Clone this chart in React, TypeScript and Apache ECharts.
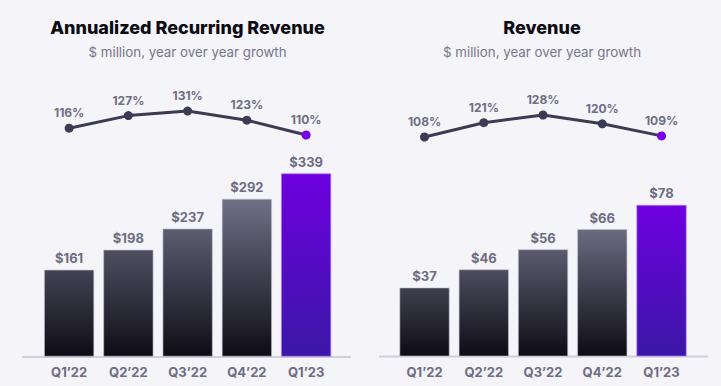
import React, { useEffect, useRef } from "react";
import * as echarts from "echarts";

const categories = ["Q1\u201922", "Q2\u201922", "Q3\u201922", "Q4\u201922", "Q1\u201923"];
const arrValues = [161, 198, 237, 292, 339];
const arrGrowth = [116, 127, 131, 123, 110];
const revValues = [37, 46, 56, 66, 78];
const revGrowth = [108, 121, 128, 120, 109];

const BG = "#f4f4f9";
const LINE = "#3c3b53";
const PURPLE = "#7a00e8";
const LABEL = "#6e6d82";
const FONT = "Inter, 'Open Sans', sans-serif";

function darkGrad(y0: number, y1: number) {
  return new echarts.graphic.LinearGradient(0, y0, 0, y1, [
    { offset: 0, color: "#76758c" },
    { offset: 1, color: "#0d0c15" },
  ], true);
}
function purpleGrad() {
  return new echarts.graphic.LinearGradient(0, 0, 0, 1, [
    { offset: 0, color: "#6e00e0" },
    { offset: 1, color: "#3a17a6" },
  ]);
}

export default function App() {
  const ref = useRef<HTMLDivElement>(null);
  useEffect(() => {
    document.body.style.margin = "0";
    document.body.style.background = BG;
    const chart = echarts.init(ref.current!, null, { renderer: "svg" });

    const barData = (vals: number[], y0: number, y1: number) =>
      vals.map((v, i) => ({
        value: v,
        itemStyle: {
          color: i === vals.length - 1 ? purpleGrad() : darkGrad(y0, y1),
          borderColor: i === vals.length - 1 ? "rgba(170,120,255,0.7)" : "rgba(190,190,210,0.6)",
          borderWidth: 1,
        },
      }));

    const lineData = (vals: number[]) =>
      vals.map((v, i) => ({
        value: v,
        itemStyle: { color: i === vals.length - 1 ? PURPLE : LINE },
      }));

    const hiddenY = (min: number, max: number, gridIndex: number) => ({
      type: "value", gridIndex, min, max,
      show: false, splitLine: { show: false },
    });
    const xAx = (gridIndex: number, showLabels: boolean) => ({
      type: "category", gridIndex, data: categories,
      axisLine: { show: false }, axisTick: { show: false },
      axisLabel: {
        show: showLabels, color: LABEL, fontWeight: "bold", fontSize: 13,
        fontFamily: FONT, margin: 9,
      },
    });

    const barLabel = {
      show: true, position: "top", distance: 5,
      formatter: (p: any) => "$" + p.value,
      color: LABEL, fontWeight: "bold", fontSize: 13, fontFamily: FONT,
    };
    const lineLabel = {
      show: true, position: "top", distance: 5,
      formatter: (p: any) => p.value + "%",
      color: LABEL, fontWeight: "bold", fontSize: 12, fontFamily: FONT,
    };

    chart.setOption({
      animation: false,
      backgroundColor: BG,
      grid: [
        { left: 39.5, width: 296.25, top: 140.3, height: 216.4 },
        { left: 39.5, width: 296.25, top: 100.8, height: 68.4 },
        { left: 394.9, width: 296.25, top: 160.5, height: 195.5 },
        { left: 394.9, width: 296.25, top: 101.8, height: 66 },
      ],
      xAxis: [xAx(0, true), xAx(1, false), xAx(2, true), xAx(3, false)],
      yAxis: [hiddenY(0, 400, 0), hiddenY(80, 140, 1), hiddenY(3, 100, 2), hiddenY(80, 140, 3)],
      series: [
        {
          type: "bar", xAxisIndex: 0, yAxisIndex: 0, barCategoryGap: "15%",
          data: barData(arrValues, 190, 357), label: barLabel,
        },
        {
          type: "line", xAxisIndex: 1, yAxisIndex: 1, data: lineData(arrGrowth),
          symbol: "circle", symbolSize: 9,
          lineStyle: { color: LINE, width: 3 }, label: lineLabel,
        },
        {
          type: "bar", xAxisIndex: 2, yAxisIndex: 2, barCategoryGap: "15%",
          data: barData(revValues, 215, 356), label: barLabel,
        },
        {
          type: "line", xAxisIndex: 3, yAxisIndex: 3, data: lineData(revGrowth),
          symbol: "circle", symbolSize: 9,
          lineStyle: { color: LINE, width: 3 }, label: lineLabel,
        },
      ],
      graphic: [
        { type: "line", shape: { x1: 22, y1: 357, x2: 351, y2: 357 }, style: { stroke: "#cfcedb", lineWidth: 2 }, z: 0 },
        { type: "line", shape: { x1: 379, y1: 356.5, x2: 708, y2: 356.5 }, style: { stroke: "#cfcedb", lineWidth: 2 }, z: 0 },
        {
          type: "text", x: 187.5, y: 27,
          style: { text: "Annualized Recurring Revenue", align: "center", verticalAlign: "middle", fill: "#0b0b12", font: `800 18px ${FONT}` },
        },
        {
          type: "text", x: 187.5, y: 52,
          style: { text: "$ million, year over year growth", align: "center", verticalAlign: "middle", fill: "#77768a", font: `400 13.3px ${FONT}` },
        },
        {
          type: "text", x: 542, y: 27,
          style: { text: "Revenue", align: "center", verticalAlign: "middle", fill: "#0b0b12", font: `800 18px ${FONT}` },
        },
        {
          type: "text", x: 542, y: 52,
          style: { text: "$ million, year over year growth", align: "center", verticalAlign: "middle", fill: "#77768a", font: `400 13.3px ${FONT}` },
        },
      ],
    });
    return () => chart.dispose();
  }, []);
  return <div ref={ref} style={{ width: 721, height: 386 }} />;
}
